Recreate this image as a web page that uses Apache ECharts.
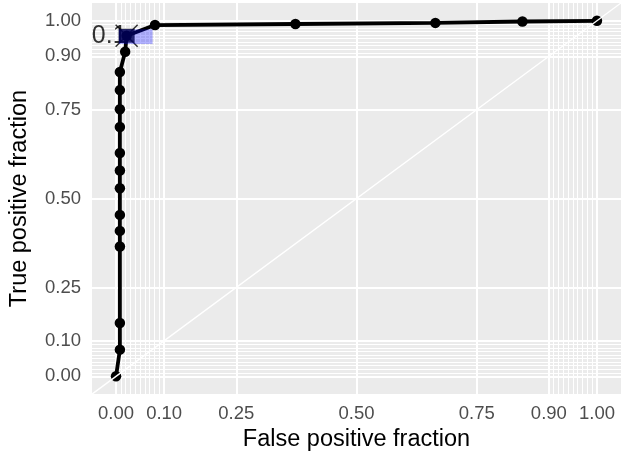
<!DOCTYPE html>
<html>
<head>
<meta charset="utf-8">
<script src="https://cdn.jsdelivr.net/npm/echarts@6/dist/echarts.min.js"></script>
<style>html,body{margin:0;padding:0;background:#fff}#c{width:621px;height:457px}</style>
</head>
<body>
<div id="c"></div>
<script>
// ROC curve points (false positive fraction, true positive fraction)
const fpf = [0, 0.008, 0.008, 0.008, 0.008, 0.008, 0.008, 0.008, 0.008, 0.008, 0.008, 0.008, 0.008, 0.019, 0.022, 0.081, 0.373, 0.664, 0.845, 1];
const tpf = [0, 0.075, 0.150, 0.365, 0.409, 0.454, 0.529, 0.579, 0.628, 0.701, 0.751, 0.805, 0.856, 0.913, 0.958, 0.988, 0.991, 0.994, 0.998, 1];
// confidence region at cutoff 0.1
const ciLabel = '0.1';
const ciPoint = [0.022, 0.958];
const ciFpf = [0.0056, 0.076];
const ciTpf = [0.935, 0.976];
// breaks
const majorBreaks = [0, 0.1, 0.25, 0.5, 0.75, 0.9, 1];
const minorBreaks = [0.01, 0.02, 0.03, 0.04, 0.05, 0.06, 0.07, 0.08, 0.09, 0.91, 0.92, 0.93, 0.94, 0.95, 0.96, 0.97, 0.98, 0.99];
const tickLabels = ['0.00', '0.10', '0.25', '0.50', '0.75', '0.90', '1.00'];
const guide = [[-0.05, -0.05], [1.05, 1.05]];

const FONT = 'Liberation Sans';
const chart = echarts.init(document.getElementById('c'), null, {renderer: 'canvas'});

function axis(name, isY) {
  return {
    type: 'value', min: -0.05, max: 1.05,
    name: name, nameLocation: 'middle', nameGap: isY ? 60 : 33,
    nameTextStyle: {fontFamily: FONT, fontSize: 23.5, color: '#000'},
    axisLine: {show: false},
    splitLine: {show: false},
    axisTick: {show: true, length: 5.5, customValues: majorBreaks, lineStyle: {color: '#333333', width: 1.5}},
    axisLabel: {show: true, margin: isY ? 11 : 10, customValues: majorBreaks, fontFamily: FONT, fontSize: 18.5, color: '#4D4D4D',
      formatter: v => tickLabels[majorBreaks.findIndex(b => Math.abs(b - v) < 1e-9)] || ''}
  };
}

function gridLines(vals, width, z) {
  return {
    type: 'line', data: [], z: z, silent: true, animation: false,
    markLine: {
      z: z, silent: true, animation: false, symbol: ['none', 'none'], label: {show: false},
      lineStyle: {color: '#FFFFFF', width: width, type: 'solid'},
      emphasis: {disabled: true},
      data: vals.map(v => ({xAxis: v})).concat(vals.map(v => ({yAxis: v})))
    }
  };
}

chart.setOption({
  backgroundColor: '#FFFFFF',
  animation: false,
  grid: {left: 89, top: 3, width: 533, height: 391.5, show: true, backgroundColor: '#EBEBEB', borderWidth: 0},
  xAxis: axis('False positive fraction', false),
  yAxis: axis('True positive fraction', true),
  series: [
    gridLines(minorBreaks, 1, 1),
    gridLines(majorBreaks, 2, 2),
    {
      type: 'line', z: 3, data: fpf.map((x, i) => [x, tpf[i]]),
      symbol: 'circle', symbolSize: 10.5, showSymbol: true, clip: false,
      lineStyle: {color: '#000', width: 3.8}, itemStyle: {color: '#000', borderWidth: 0}
    },
    {
      type: 'scatter', z: 4, data: [ciPoint], symbol: 'rect', symbolSize: [16, 14], clip: false,
      itemStyle: {color: '#000'}
    },
    {
      type: 'scatter', z: 5, data: [ciPoint], clip: false,
      symbol: 'path://M0,0L10,10M10,0L0,10', symbolSize: 22,
      itemStyle: {color: 'rgba(0,0,0,0)', borderColor: '#000', borderWidth: 1.5},
      label: {show: true, formatter: ciLabel, position: 'inside', align: 'right', verticalAlign: 'middle',
        fontFamily: FONT, fontSize: 25, color: '#000'}
    },
    {
      type: 'line', z: 6, data: [], silent: true,
      markArea: {z: 6, silent: true, itemStyle: {color: 'rgba(0,0,255,0.3)'},
        data: [[{coord: [ciFpf[0], ciTpf[0]]}, {coord: [ciFpf[1], ciTpf[1]]}]]}
    },
    {
      type: 'line', z: 7, data: guide, symbol: 'none', silent: true,
      lineStyle: {color: '#FFFFFF', width: 1.4}
    }
  ]
});
</script>
</body>
</html>
